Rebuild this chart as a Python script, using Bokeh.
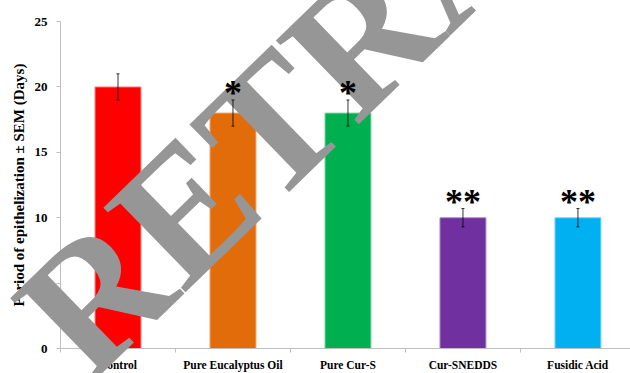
import numpy as np
from bokeh.plotting import figure
from bokeh.models import ColumnDataSource, FixedTicker, Whisker, TeeHead, Range1d
from bokeh.core.properties import value
from bokeh.embed import file_html
from bokeh.resources import INLINE

categories = ["Control", "Pure Eucalyptus Oil", "Pure Cur-S", "Cur-SNEDDS", "Fusidic Acid"]
values = [20, 18, 18, 10, 10]
errors = [1.0, 1.0, 1.0, 0.7, 0.7]
stars = ["", "*", "*", "**", "**"]
colors = ["#FF0000", "#E26B0A", "#00B050", "#7030A0", "#00B0F0"]
edge_colors = ["#FF8A8A", "#F0A772", "#7FD8A6", "#B090CC", "#80D8F8"]
y_ticks = [0, 5, 10, 15, 20, 25]
watermark = "RETRACTED"

x = np.arange(len(categories)) + 0.5
src = ColumnDataSource(dict(
    x=x, top=values, err=errors,
    upper=[v + e for v, e in zip(values, errors)],
    lower=[v - e for v, e in zip(values, errors)],
    star=stars, color=colors, edge=edge_colors,
))

p = figure(width=630, height=373, output_backend="svg", toolbar_location=None,
           x_range=Range1d(0, 4.957), y_range=Range1d(0, 25),
           min_border_left=60, min_border_right=0, min_border_top=21, min_border_bottom=20)
p.outline_line_color = None
p.background_fill_color = "white"
p.border_fill_color = "white"
p.grid.visible = False

p.vbar(x="x", top="top", width=0.4, bottom=0, source=src,
       fill_color="color", line_color="edge", line_width=1)

# watermark stamp drawn over the chart (not clipped to the frame)
p.text(x=[-0.11], y=[0.53], text=[watermark], angle=0.77,
       text_font=value("Liberation Serif"), text_font_style="bold",
       text_font_size="180px", text_color="#969696",
       text_align="left", text_baseline="alphabetic", level="overlay")

wh = Whisker(source=src, base="x", upper="upper", lower="lower",
             line_color="black", line_width=0.8,
             upper_head=TeeHead(size=3, line_color="black", line_width=0.8),
             lower_head=TeeHead(size=3, line_color="black", line_width=0.8))
wh.level = "overlay"
p.add_layout(wh)

p.text(x="x", y="upper", text="star", source=src,
       text_font=value("Liberation Serif"), text_font_style="bold",
       text_font_size="36px", text_align="center", text_baseline="alphabetic",
       y_offset=-7, text_color="black", level="overlay")

# axes
p.yaxis.ticker = FixedTicker(ticks=y_ticks)
p.yaxis.axis_line_color = "#BFBFBF"
p.yaxis.major_tick_line_color = "#BFBFBF"
p.yaxis.major_tick_out = 4
p.yaxis.major_tick_in = 0
p.yaxis.minor_tick_line_color = None
p.yaxis.major_label_text_font = "Liberation Serif"
p.yaxis.major_label_text_font_style = "bold"
p.yaxis.major_label_text_font_size = "13px"
p.yaxis.major_label_text_color = "black"
p.yaxis.major_label_standoff = 9
p.yaxis.axis_label = "Period of epithelization \u00b1 SEM (Days)"
p.yaxis.axis_label_text_font = "Liberation Serif"
p.yaxis.axis_label_text_font_style = "bold"
p.yaxis.axis_label_text_font_size = "15px"
p.yaxis.axis_label_text_color = "black"
p.yaxis.axis_label_standoff = 5

p.xaxis.ticker = FixedTicker(ticks=list(x), minor_ticks=list(range(len(categories) + 1)))
p.xaxis.major_label_overrides = {float(xx): c for xx, c in zip(x, categories)}
p.xaxis.axis_line_color = "#BFBFBF"
p.xaxis.major_tick_line_color = None
p.xaxis.minor_tick_line_color = "#BFBFBF"
p.xaxis.minor_tick_out = 4
p.xaxis.minor_tick_in = 0
p.xaxis.major_tick_out = 0
p.xaxis.major_tick_in = 0
p.xaxis.major_label_standoff = 6
p.xaxis.major_label_text_font = "Liberation Serif"
p.xaxis.major_label_text_font_style = "bold"
p.xaxis.major_label_text_font_size = "11.5px"
p.xaxis.major_label_text_color = "black"

open("out.html", "w").write(file_html(p, INLINE))
